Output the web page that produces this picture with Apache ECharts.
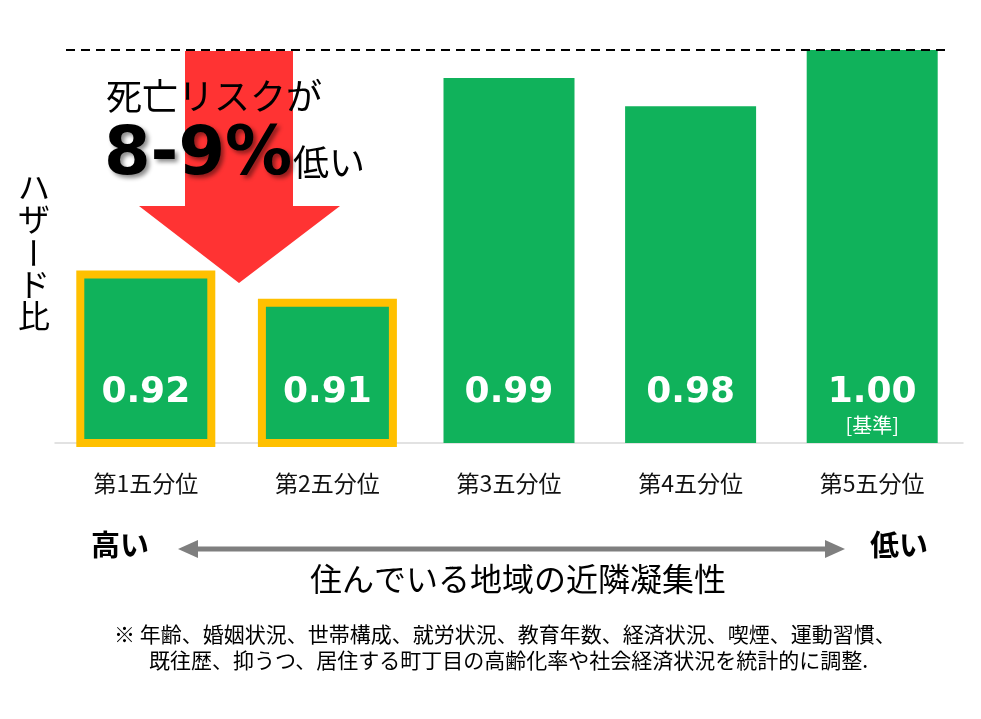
<!DOCTYPE html>
<html>
<head>
<meta charset="utf-8">
<script src="https://cdn.jsdelivr.net/npm/echarts@6/dist/echarts.min.js"></script>
<style>
html,body{margin:0;padding:0;background:#fff;}
#main{width:981px;height:719px;}
</style>
</head>
<body>
<div id="main"></div>
<script>
// ---- data ----
const categories = ['第1五分位', '第2五分位', '第3五分位', '第4五分位', '第5五分位'];
const hazardRatios = [0.92, 0.91, 0.99, 0.98, 1.00];
const framedBars = [true, true, false, false, false];
const barNotes = ['', '', '', '', '[基準]'];
const referenceValue = 1.00;
const yMin = 0.86;
const yMax = 1.00;

const JP = '"Noto Sans CJK JP", "Noto Sans", sans-serif';
const GREEN = '#10B25B';
const ORANGE = '#FFC000';
const BAR_W = 131;

const seriesData = hazardRatios.map((v, i) => {
  const item = { value: v };
  if (barNotes[i]) item.label = { distance: 6 };
  return item;
});
const frameData = [];
hazardRatios.forEach((v, i) => { if (framedBars[i]) frameData.push([i, v]); });

const chart = echarts.init(document.getElementById('main'), null, { renderer: 'canvas' });

const option = {
  backgroundColor: '#ffffff',
  animation: false,
  grid: { left: 55, right: 18, top: 50, bottom: 276, containLabel: false },
  xAxis: {
    type: 'category',
    data: categories,
    axisLine: { show: true, lineStyle: { color: '#D9D9D9', width: 1.5 } },
    axisTick: { show: false },
    axisLabel: { fontFamily: JP, fontSize: 23, color: '#111', margin: 28, lineHeight: 24 }
  },
  yAxis: {
    type: 'value',
    min: yMin,
    max: yMax,
    show: false,
    splitLine: { show: false }
  },
  series: [{
    type: 'bar',
    data: seriesData,
    barWidth: BAR_W,
    itemStyle: { color: GREEN },
    z: 2,
    label: {
      show: true,
      position: 'insideBottom',
      distance: 30,
      formatter: (p) => {
        const note = barNotes[p.dataIndex];
        const v = '{v|' + p.value.toFixed(2) + '}';
        return note ? v + '\n{s|' + note + '}' : v;
      },
      rich: {
        v: { fontFamily: '"DejaVu Sans", Verdana, sans-serif', fontWeight: 'bold', fontSize: 36, color: '#fff', lineHeight: 40, align: 'center' },
        s: { fontFamily: JP, fontSize: 20, color: '#fff', lineHeight: 24, align: 'center' }
      }
    }
  }, {
    type: 'custom',
    data: frameData,
    encode: { x: 0, y: 1 },
    z: 3,
    silent: true,
    renderItem: (params, api) => {
      const top = api.coord([api.value(0), api.value(1)]);
      const bottom = api.coord([api.value(0), yMin]);
      return {
        type: 'rect',
        shape: { x: top[0] - BAR_W / 2, y: top[1], width: BAR_W, height: bottom[1] - top[1] },
        style: { fill: null, stroke: ORANGE, lineWidth: 8 }
      };
    }
  }]
};

chart.setOption(option);

// decorations placed relative to the axes
const yRef = chart.convertToPixel({ yAxisIndex: 0 }, referenceValue);

const ylabelChars = ['ハ', 'ザ', 'ー', 'ド', '比'];
const ylabelY = [187, 219, 253, 284, 316];
const yLabelEls = ylabelChars.map((c, i) => ({
  type: 'text',
  x: 34, y: ylabelY[i],
  rotation: c === 'ー' ? Math.PI / 2 : 0,
  style: { text: c, font: '32px ' + JP, fill: '#000', textAlign: 'center', textVerticalAlign: 'middle' },
  z: 10
}));

chart.setOption({
  graphic: [
    { type: 'line', shape: { x1: 66, y1: yRef, x2: 950, y2: yRef },
      style: { stroke: '#000', lineWidth: 2, lineDash: [9, 6] }, z: 5 },
    { type: 'polygon',
      shape: { points: [[185, yRef + 1], [293, yRef + 1], [293, 206], [340, 206], [239, 283], [139, 206], [185, 206]] },
      style: { fill: '#FF3333' }, z: 3 },
    { type: 'text', x: 106, y: 96,
      style: { text: '死亡リスクが', font: '36px ' + JP, fill: '#000', textAlign: 'left', textVerticalAlign: 'middle' }, z: 10 },
    { type: 'text', x: 104, y: 157,
      style: { text: '8-9%', font: 'bold 67px "DejaVu Sans", Verdana, sans-serif', fill: '#000', textAlign: 'left', textVerticalAlign: 'middle',
        textShadowColor: 'rgba(0,0,0,0.45)', textShadowBlur: 4, textShadowOffsetX: 3, textShadowOffsetY: 3 }, z: 10 },
    { type: 'text', x: 293, y: 162,
      style: { text: '低い', font: '36px ' + JP, fill: '#000', textAlign: 'left', textVerticalAlign: 'middle' }, z: 10 },
    ...yLabelEls,
    { type: 'text', x: 91, y: 545,
      style: { text: '高い', font: 'bold 29px ' + JP, fill: '#000', textAlign: 'left', textVerticalAlign: 'middle' }, z: 10 },
    { type: 'text', x: 870, y: 545,
      style: { text: '低い', font: 'bold 29px ' + JP, fill: '#000', textAlign: 'left', textVerticalAlign: 'middle' }, z: 10 },
    { type: 'line', shape: { x1: 196, y1: 549, x2: 827, y2: 549 },
      style: { stroke: '#7F7F7F', lineWidth: 5 }, z: 5 },
    { type: 'polygon', shape: { points: [[178, 549], [198, 540], [198, 558]] }, style: { fill: '#7F7F7F' }, z: 5 },
    { type: 'polygon', shape: { points: [[845, 549], [825, 540], [825, 558]] }, style: { fill: '#7F7F7F' }, z: 5 },
    { type: 'text', x: 518, y: 579,
      style: { text: '住んでいる地域の近隣凝集性', font: '32px ' + JP, fill: '#000', textAlign: 'center', textVerticalAlign: 'middle' }, z: 10 },
    { type: 'text', x: 114, y: 634,
      style: { text: '※ 年齢、婚姻状況、世帯構成、就労状況、教育年数、経済状況、喫煙、運動習慣、', font: '21px ' + JP, fill: '#000', textAlign: 'left', textVerticalAlign: 'middle' }, z: 10 },
    { type: 'text', x: 149, y: 660,
      style: { text: '既往歴、抑うつ、居住する町丁目の高齢化率や社会経済状況を統計的に調整.', font: '21px ' + JP, fill: '#000', textAlign: 'left', textVerticalAlign: 'middle' }, z: 10 }
  ]
});
</script>
</body>
</html>
